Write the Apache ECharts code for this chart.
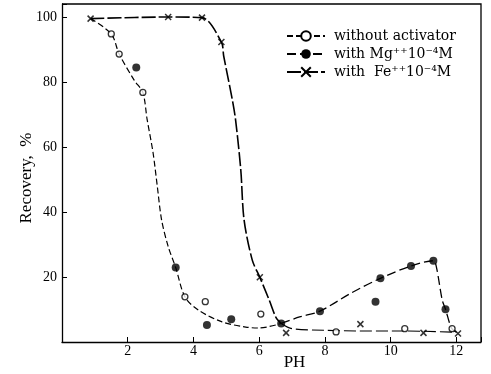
<!DOCTYPE html>
<html>
  <head>
    <meta charset="utf-8">
    <title>Recovery vs PH</title>
    <script src="https://cdn.jsdelivr.net/npm/echarts@6/dist/echarts.min.js"></script>
    <style>
      html, body { margin: 0; padding: 0; background: #fff; }
      #box { width: 491px; height: 374px; }
    </style>
  </head>
  <body>
    <div id="box"></div>
    <script type="text/javascript">
    // measured points (PH, recovery %)
    var woX = [1.5, 1.74, 2.46, 3.74, 4.36, 6.05, 8.34, 10.43, 11.87];
    var woY = [94.8, 88.6, 76.8, 13.9, 12.4, 8.6, 3.1, 4.1, 4.1];
    var mgX = [2.26, 3.46, 4.41, 5.15, 6.67, 7.85, 9.54, 9.69, 10.62, 11.3, 11.67];
    var mgY = [84.5, 22.9, 5.2, 7.0, 5.7, 9.5, 12.4, 19.6, 23.4, 25.0, 10.1];
    var feX = [0.87, 3.23, 4.26, 4.85, 6.02, 6.82, 9.08, 11.0, 12.05];
    var feY = [99.5, 100, 99.8, 92.3, 19.9, 2.8, 5.5, 2.8, 2.6];

    // hand drawn curves
    var leftCurveX = [0.87, 1.5, 1.74, 2.2, 2.46, 2.59, 2.77, 2.9, 3.03, 3.23, 3.46, 3.74, 4.15, 4.87, 5.59, 6.0, 6.67];
    var leftCurveY = [99.5, 94.8, 88.6, 80.5, 76.8, 68.5, 58.3, 47.9, 37.6, 29.4, 22.9, 13.9, 9.8, 6.2, 4.6, 4.3, 5.7];
    var feCurveX = [0.87, 3.23, 4.26, 4.85, 4.92, 5.18, 5.28, 5.44, 5.54, 5.79, 6.02, 6.31, 6.51, 6.67];
    var feCurveY = [99.5, 100, 99.8, 92.3, 88, 74.7, 68.5, 53, 37.6, 25.2, 19.9, 12.8, 7.6, 5.7];
    var mgCurveX = [6.67, 7.23, 7.85, 8.77, 9.69, 10.62, 11.3, 11.39, 11.57, 11.67, 11.85, 12.0];
    var mgCurveY = [5.7, 7.7, 9.5, 14.9, 19.6, 23.4, 25.0, 23.2, 12.9, 10.1, 4.3, 3.0];
    var flatCurveX = [6.67, 7.0, 8.0, 9.0, 10.0, 11.0, 12.0];
    var flatCurveY = [5.7, 4.1, 3.6, 3.4, 3.4, 3.3, 3.0];

    var xTicks = [2, 4, 6, 8, 10, 12];
    var yTicks = [20, 40, 60, 80, 100];

    var names = ['without activator', 'with Mg\u207A\u207A10\u207B\u2074M', 'with  Fe\u207A\u207A10\u207B\u2074M'];
    var crossPath = 'path://M0,0L10,10M10,0L0,10';

    function pairs(xs, ys) {
      return xs.map(function (x, i) { return [x, ys[i]]; });
    }

    var serif = 'Liberation Serif';
    var dom = document.getElementById('box');
    var myChart = echarts.init(dom, null, { renderer: 'canvas' });

    var option = {
      animation: false,
      backgroundColor: '#fff',
      textStyle: { fontFamily: serif, color: '#000' },
      grid: { left: 62, right: 10, top: 4, bottom: 32, outerBoundsMode: 'none', containLabel: false },
      legend: {
        orient: 'vertical',
        left: 281,
        top: 24,
        itemWidth: 38,
        itemHeight: 12,
        itemGap: 4,
        data: names,
        textStyle: { fontFamily: 'DejaVu Serif', fontSize: 14, color: '#000', padding: [0, 0, 0, 4] }
      },
      xAxis: {
        type: 'value',
        min: 0,
        max: 12.75,
        interval: 2,
        name: 'PH',
        nameLocation: 'middle',
        nameGap: 12,
        nameMoveOverlap: false,
        nameTextStyle: { fontFamily: serif, fontSize: 17, color: '#000', padding: [0, 0, 0, 46] },
        axisLine: { lineStyle: { color: '#000', width: 1.3 } },
        axisTick: { inside: true, length: 5, lineStyle: { color: '#000' } },
        axisLabel: {
          fontFamily: serif, fontSize: 14, color: '#000', margin: 2,
          formatter: function (v) { return xTicks.indexOf(v) >= 0 ? String(v) : ''; }
        },
        splitLine: { show: false }
      },
      yAxis: {
        type: 'value',
        min: 0,
        max: 104,
        interval: 20,
        name: 'Recovery,  %',
        nameLocation: 'middle',
        nameGap: 27,
        nameMoveOverlap: false,
        nameRotate: 90,
        nameTextStyle: { fontFamily: serif, fontSize: 17, color: '#000', padding: [0, 0, 0, -10] },
        axisLine: { show: true, lineStyle: { color: '#000', width: 1.3 } },
        axisTick: { show: true, inside: true, length: 5, lineStyle: { color: '#000' } },
        axisLabel: {
          fontFamily: serif, fontSize: 14, color: '#000', margin: 5,
          formatter: function (v) { return yTicks.indexOf(v) >= 0 ? String(v) : ''; }
        },
        splitLine: { show: false }
      },
      series: [
        {
          name: names[0], type: 'line', smooth: 0.3, showSymbol: false,
          symbol: 'emptyCircle', symbolSize: 7,
          itemStyle: { color: '#000', borderWidth: 1.2 },
          lineStyle: { color: '#000', width: 1.2, type: [6, 3] },
          data: pairs(leftCurveX, leftCurveY), silent: true
        },
        {
          name: names[1], type: 'line', smooth: 0.3, showSymbol: false,
          symbol: 'circle', symbolSize: 7,
          itemStyle: { color: '#000' },
          lineStyle: { color: '#000', width: 1.3, type: [9, 4] },
          data: pairs(mgCurveX, mgCurveY), silent: true
        },
        {
          name: names[2], type: 'line', smooth: 0.3, showSymbol: false,
          symbol: crossPath, symbolSize: 6,
          itemStyle: { color: '#000', borderColor: '#000', borderWidth: 1.5 },
          lineStyle: { color: '#000', width: 1.6, type: [14, 3] },
          data: pairs(feCurveX, feCurveY), silent: true
        },
        {
          name: 'flat', type: 'line', smooth: 0.3, showSymbol: false,
          lineStyle: { color: '#000', width: 1.1, type: [12, 4] },
          data: pairs(flatCurveX, flatCurveY), silent: true
        },
        {
          name: 'wo pts', type: 'scatter', symbol: 'circle', symbolSize: 6,
          itemStyle: { color: '#fff', borderColor: '#000', borderWidth: 1.3 },
          data: pairs(woX, woY), z: 5
        },
        {
          name: 'mg pts', type: 'scatter', symbol: 'circle', symbolSize: 8,
          itemStyle: { color: '#000' },
          data: pairs(mgX, mgY), z: 5
        },
        {
          name: 'fe pts', type: 'scatter', symbol: crossPath, symbolSize: 6,
          itemStyle: { color: 'none', borderColor: '#000', borderWidth: 1.5 },
          data: pairs(feX, feY), z: 5
        }
      ]
    };

    myChart.setOption(option);
    // top and right frame lines of the plot box
    var p0 = myChart.convertToPixel('grid', [0, 104]);
    var p1 = myChart.convertToPixel('grid', [12.75, 0]);
    myChart.setOption({
      graphic: [{
        type: 'polyline',
        shape: { points: [[p0[0], p0[1]], [p1[0], p0[1]], [p1[0], p1[1]]] },
        style: { stroke: '#000', lineWidth: 1.3, fill: null }
      }]
    });
    </script>
  </body>
</html>
